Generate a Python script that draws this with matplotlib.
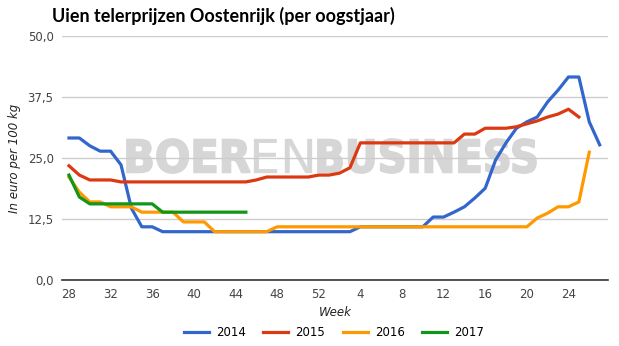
import numpy as np
import matplotlib.pyplot as plt
from matplotlib.textpath import TextPath
from matplotlib.patches import PathPatch
from matplotlib.font_manager import FontProperties
from matplotlib.transforms import Affine2D

nan = np.nan

# weeks of the harvest year: 28..52, then 1..27
weeks = list(range(28, 53)) + list(range(1, 28))
tick_weeks = [28, 32, 36, 40, 44, 48, 52, 4, 8, 12, 16, 20, 24]

p2014 = [29.1, 29.1, 27.5, 26.4, 26.4, 23.6, 14.7, 10.9, 10.9, 9.9, 9.9, 9.9, 9.9,
         9.9, 9.9, 9.9, 9.9, 9.9, 9.9, 9.9, 9.9, 9.9, 9.9, 9.9, 9.9,
         9.9, 9.9, 9.9, 10.9, 10.9, 10.9, 10.9, 10.9, 10.9, 10.9, 12.9, 12.9, 13.9,
         15.0, 16.8, 18.8, 24.6, 28.1, 31.1, 32.4, 33.4, 36.5, 38.9, 41.6, 41.6,
         32.4, 27.7]
p2015 = [23.4, 21.5, 20.5, 20.5, 20.5, 20.1, 20.1, 20.1, 20.1, 20.1, 20.1, 20.1, 20.1,
         20.1, 20.1, 20.1, 20.1, 20.1, 20.5, 21.1, 21.1, 21.1, 21.1, 21.1, 21.5,
         21.5, 21.9, 23.0, 28.1, 28.1, 28.1, 28.1, 28.1, 28.1, 28.1, 28.1, 28.1, 28.1,
         29.9, 29.9, 31.1, 31.1, 31.1, 31.4, 32.0, 32.6, 33.4, 34.0, 35.0, 33.4,
         nan, nan]
p2016 = [21.1, 18.0, 16.0, 16.0, 15.0, 15.0, 15.0, 13.9, 13.9, 13.9, 13.9, 11.9, 11.9,
         11.9, 9.9, 9.9, 9.9, 9.9, 9.9, 9.9, 10.9, 10.9, 10.9, 10.9, 10.9,
         10.9, 10.9, 10.9, 10.9, 10.9, 10.9, 10.9, 10.9, 10.9, 10.9, 10.9, 10.9, 10.9,
         10.9, 10.9, 10.9, 10.9, 10.9, 10.9, 10.9, 12.7, 13.7, 15.0, 15.0, 16.0,
         26.2, nan]
p2017 = [21.5, 17.0, 15.6, 15.6, 15.6, 15.6, 15.6, 15.6, 15.6, 13.9, 13.9, 13.9, 13.9,
         13.9, 13.9, 13.9, 13.9, 13.9] + [nan] * 34

series = [('2014', p2014, '#3366cc'), ('2015', p2015, '#dc3912'),
          ('2016', p2016, '#ff9900'), ('2017', p2017, '#109618')]

W, H = 619, 346
plt.rcParams['font.family'] = ['DejaVu Sans']
fig = plt.figure(figsize=(W / 100, H / 100), dpi=100)
ax = fig.add_axes([62 / W, 66 / H, 546 / W, 244 / H])

x = np.arange(len(weeks))
for name, vals, col in series:
    ax.plot(x, np.array(vals, dtype=float), color=col, lw=2.3, label=name,
            solid_joinstyle='round', zorder=3)

ax.set_xlim(-0.67, 51.8)
ax.set_ylim(0, 50)
ax.set_yticks([0, 12.5, 25, 37.5, 50])
ax.set_yticklabels(['0,0', '12,5', '25,0', '37,5', '50,0'])
ax.set_xticks([weeks.index(w) for w in tick_weeks])
ax.set_xticklabels([str(w) for w in tick_weeks])
ax.tick_params(length=0, labelsize=8.5, labelcolor='#444444', pad=6)
ax.grid(axis='y', color='#cccccc', lw=1)
ax.set_axisbelow(True)
for s in ['top', 'right', 'left']:
    ax.spines[s].set_visible(False)
ax.spines['bottom'].set_color('#333333')
ax.spines['bottom'].set_linewidth(1.2)
ax.spines['bottom'].set_zorder(4)

ax.set_xlabel('Week', style='italic', fontsize=8.5, labelpad=3, color='#222222')
ax.set_ylabel('In euro per 100 kg', style='italic', fontsize=8.5, color='#222222',
              labelpad=5)


# watermark, squeezed into the box it takes in the picture (pixels)
def watermark(txt, weight, x0, x1, y0, y1, stroke):
    tp = TextPath((0, 0), txt, size=10,
                  prop=FontProperties(family='DejaVu Sans', weight=weight))
    e = tp.get_extents()
    tr = (Affine2D().translate(-e.x0, -e.y0)
          .scale((x1 - x0) / e.width / W, (y1 - y0) / e.height / H)
          .translate(x0 / W, 1 - y1 / H))
    ax.add_artist(PathPatch(tr.transform_path(tp), fc='#d6d6d6', ec='#d6d6d6',
                            lw=stroke, transform=fig.transFigure, zorder=0.2))


watermark('BOER', 'bold', 127, 250, 139, 173, 1.3)
watermark('EN', 'normal', 254, 312, 139, 173, 0.2)
watermark('BUSINESS', 'bold', 318, 536, 139, 173, 1.3)

fig.text(52 / W, 1 - 16 / H, 'Uien telerprijzen Oostenrijk (per oogstjaar)',
         fontsize=13, weight='bold', va='center', ha='left', family='Lato')

ax.legend(loc='center', bbox_to_anchor=(334 / W, 1 - 333 / H),
          bbox_transform=fig.transFigure, ncol=4, frameon=False, fontsize=8.5,
          handlelength=2.1, columnspacing=1.5, handletextpad=0.6)

fig.savefig('out.png', dpi=100)
